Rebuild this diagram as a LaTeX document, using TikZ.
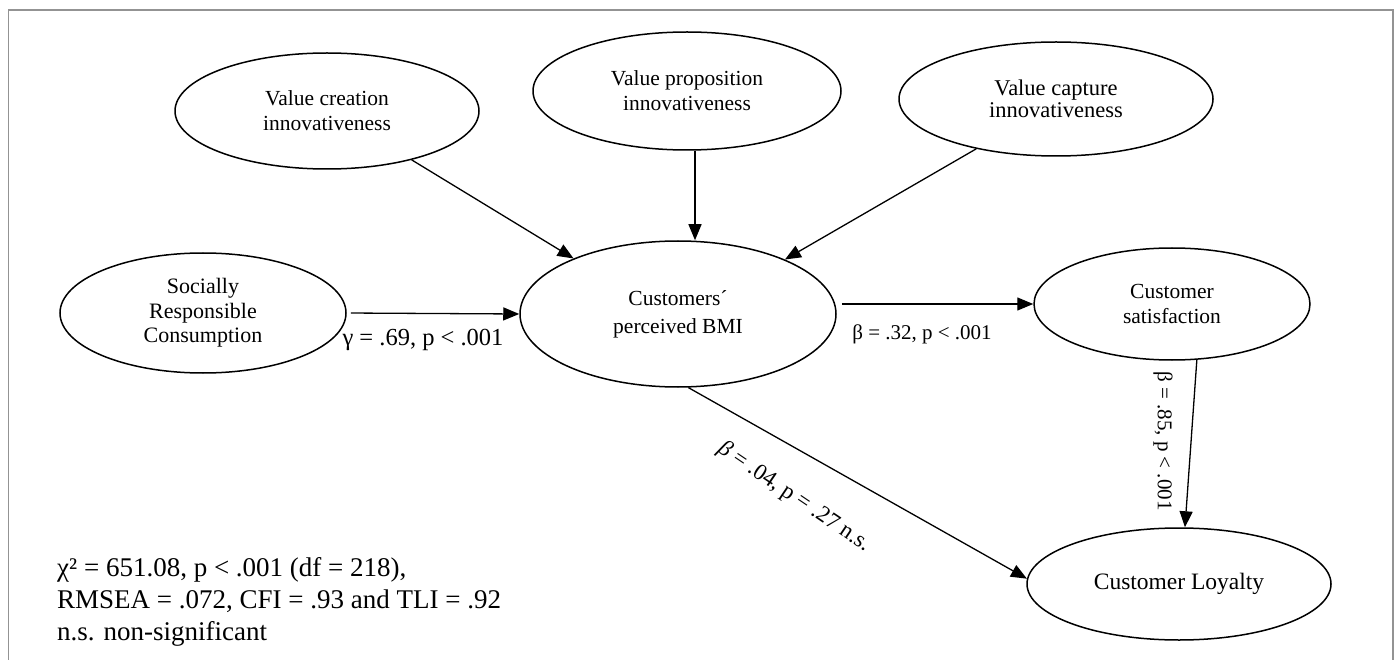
\documentclass[tikz,border=0pt]{standalone}
\usepackage{fontspec}
\setmainfont{Liberation Serif}
\usetikzlibrary{shapes.geometric,arrows.meta}
\begin{document}
\begin{tikzpicture}[x=1pt,y=-1pt,
  latent/.style={ellipse,draw,line width=1.5pt,inner sep=0pt,align=center,
    font=\fontsize{21.5}{25}\selectfont},
  patharrow/.style={line width=1.3pt,-{Triangle[length=16pt,width=13pt]}},
  lab/.style={font=\fontsize{21}{25}\selectfont,inner sep=0pt},
  fitlab/.style={font=\fontsize{27}{32}\selectfont,inner sep=0pt,anchor=base west},
  frame/.style={draw=gray!85,line width=1.5pt}]
\useasboundingbox (0,0) rectangle (1397,660);
\draw[frame] (8.5,660) -- (8.5,10) -- (1393,10) -- (1393,660);

\node[latent,minimum width=304pt,minimum height=116pt] (vc) at (327,111) {Value creation\\innovativeness};
\node[latent,minimum width=308pt,minimum height=118pt] (vp) at (687,91) {Value proposition\\innovativeness};
\node[latent,minimum width=314pt,minimum height=114pt,font=\fontsize{22.5}{22}\selectfont] (vcap) at (1056,99) {Value capture\\innovativeness};
\node[latent,minimum width=286pt,minimum height=120pt,font=\fontsize{22}{24.5}\selectfont] (src) at (203,313) {Socially\\Responsible\\Consumption};
\node[latent,minimum width=316pt,minimum height=146pt,font=\fontsize{21.5}{28}\selectfont] (bmi) at (678,314) {Customers´\\perceived BMI};
\node[latent,minimum width=276pt,minimum height=112pt] (sat) at (1172,304) {Customer\\satisfaction};
\node[latent,minimum width=304pt,minimum height=112pt,font=\fontsize{23.5}{25}\selectfont] (loy) at (1179,584) {Customer Loyalty};

\draw[patharrow,shorten <=4pt] (src.east) -- (bmi.west);
\draw[patharrow,shorten <=5pt] (bmi.east |- sat.west) -- (sat.west);
\draw[patharrow] (vc.-30) -- (bmi.152);
\draw[patharrow] ([xshift=8pt]vp.south) -- ([xshift=17pt]bmi.north);
\draw[patharrow] (vcap.212) -- (bmi.27);
\draw[patharrow] (sat.-66) -- (loy.84);
\draw[patharrow] (bmi.-82) -- (loy.178);

\node[lab,font=\fontsize{24.5}{25}\selectfont] (g1) at (423,340) {γ = .69, p < .001};
\node[lab] (b1) at (922,334) {β = .32, p < .001};
\node[lab,rotate=-90] (b2) at (1163,441) {β = .85, p < .001};
\node[lab,rotate=-34,font=\fontsize{23}{25}\selectfont] (b3) at (794,497) {\textit{β} = .04, p = .27 n.s.};

\node[fitlab] (f1) at (57,576) {χ² = 651.08, p < .001 (df = 218),};
\node[fitlab] (f2) at (57,608) {RMSEA = .072, CFI = .93 and TLI = .92};
\node[fitlab] (f3) at (57,640) {n.s. non-significant};
\end{tikzpicture}
\end{document}
